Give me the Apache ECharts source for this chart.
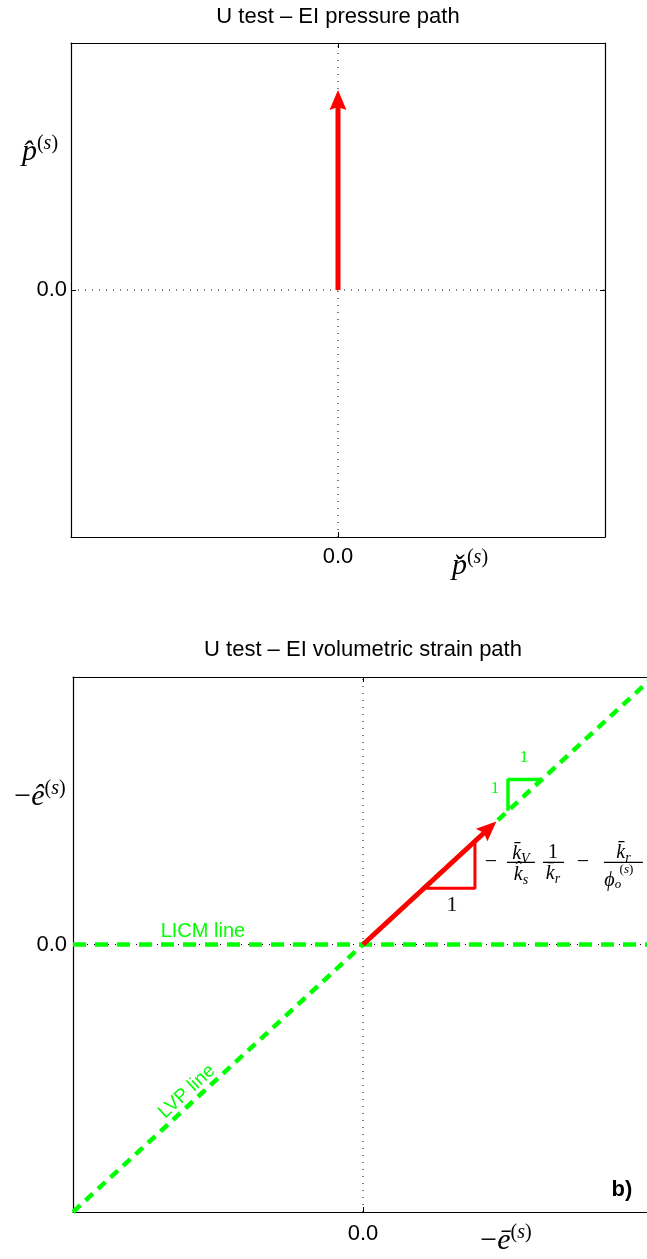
<!DOCTYPE html>
<html>
<head>
<meta charset="utf-8">
<script src="https://cdn.jsdelivr.net/npm/echarts@6.0.0/dist/echarts.min.js"></script>
<style>
html,body{margin:0;padding:0;background:#fff;}
#chart{width:647px;height:1259px;}
</style>
</head>
<body>
<div id="chart"></div>
<script>
// ---------------- data ----------------
const titles = ['U test \u2013 EI pressure path', 'U test \u2013 EI volumetric strain path'];
const tickLabels = ['0.0'];
const axisMin = -1, axisMax = 1, axisStep = 1;
const zeroLineV = [[0, -1], [0, 1]];
const zeroLineH = [[-1, 0], [1, 0]];
const pressureArrow = [0, 0, 0, 0.81];      // x0, y0, x1, y1
const strainArrow = [0, 0, 0.46, 0.46];
const licmLine = [[-1, 0], [1, 0]];
const lvpLine = [[-1, -1], [1, 1]];
const redTriangle = [[0.21, 0.21], [0.386, 0.21], [0.386, 0.386]];
const greenTriangle = [[0.5, 0.5], [0.5, 0.617], [0.617, 0.617]];
const lineLabels = ['LICM line', 'LVP line'];
const slopeLabels = ['1', '1', '1'];
const panelLabel = 'b)';

// ---------------- styling ----------------
const SANS = '"Liberation Sans", Arial, Helvetica, sans-serif';
const SERIF = '"Liberation Serif", "DejaVu Serif", serif';
const GREEN = '#00ff00';
const RED = '#ff0000';

// annotation anchors (data coordinates of the bottom panel)
const annotations = [
  {text: lineLabels[0], at: [-0.552, 0.049], font: '20px ' + SANS, fill: GREEN},
  {text: lineLabels[1], at: [-0.607, -0.55], font: '19px ' + SANS, fill: GREEN, rot: 42.7},
  {text: slopeLabels[0], at: [0.307, 0.146], font: '22px ' + SERIF, fill: '#111'},
  {text: slopeLabels[1], at: [0.455, 0.583], font: '17px ' + SERIF, fill: GREEN},
  {text: slopeLabels[2], at: [0.555, 0.699], font: '17px ' + SERIF, fill: GREEN},
  {text: panelLabel, at: [0.893, -0.916], font: 'bold 22px ' + SANS, fill: '#000'}
];
const formulaAnchor = [0.424, 0.307];

function mathRich(S) {
  return {
    it: {fontFamily: SERIF, fontStyle: 'italic', fontSize: S, lineHeight: Math.round(S * 1.3), fill: '#000'},
    up: {fontFamily: SERIF, fontSize: S, lineHeight: Math.round(S * 1.3), fill: '#000'},
    sub: {fontFamily: SERIF, fontStyle: 'italic', fontSize: Math.round(S * 0.7), lineHeight: Math.round(S * 0.7), verticalAlign: 'bottom', fill: '#000'},
    sup: {fontFamily: SERIF, fontSize: Math.round(S * 0.7), lineHeight: Math.round(S * 0.7), verticalAlign: 'top', fill: '#000'},
    supi: {fontFamily: SERIF, fontStyle: 'italic', fontSize: Math.round(S * 0.7), lineHeight: Math.round(S * 0.7), verticalAlign: 'top', fill: '#000'}
  };
}

function arrowRender(params, api) {
  const p0 = api.coord([api.value(0), api.value(1)]);
  const p1 = api.coord([api.value(2), api.value(3)]);
  const dx = p1[0] - p0[0], dy = p1[1] - p0[1];
  const L = Math.hypot(dx, dy);
  const ux = dx / L, uy = dy / L, nx = -uy, ny = ux;
  const headL = 20, headW = 8.5, notch = 3;
  const bx = p1[0] - ux * headL, by = p1[1] - uy * headL;
  const mx = p1[0] - ux * (headL - notch), my = p1[1] - uy * (headL - notch);
  return {
    type: 'group',
    children: [
      {type: 'line', shape: {x1: p0[0], y1: p0[1], x2: mx, y2: my}, style: {stroke: RED, lineWidth: 5}},
      {type: 'polygon', shape: {points: [[p1[0], p1[1]], [bx + nx * headW, by + ny * headW], [mx, my], [bx - nx * headW, by - ny * headW]]}, style: {fill: RED}}
    ]
  };
}

function labelRender(params, api) {
  const a = annotations[api.value(2)];
  const p = api.coord([api.value(0), api.value(1)]);
  return {
    type: 'text', x: p[0], y: p[1], rotation: (a.rot || 0) * Math.PI / 180,
    style: {text: a.text, font: a.font, fill: a.fill, align: 'center', verticalAlign: 'middle'}
  };
}

function formulaRender(params, api) {
  const p = api.coord([api.value(0), api.value(1)]);
  const x = p[0], y = p[1];
  const T = (text, cx, cy, S) => ({type: 'text', style: {text: text, x: x + cx, y: y + cy, align: 'center', verticalAlign: 'middle', rich: mathRich(S || 20), fill: '#000'}});
  const bar = (a, b) => ({type: 'line', shape: {x1: x + a, y1: y, x2: x + b, y2: y}, style: {stroke: '#000', lineWidth: 1.3}});
  return {
    type: 'group',
    children: [
      T('{up|\u2212}', 5, 0, 22),
      bar(21, 49), T('{it|k\u0304}{sub|V}', 35, -9), T('{it|k\u0302}{sub|s}', 35, 12),
      bar(57, 78), T('{up|1}', 67, -10), T('{it|k\u0304}{sub|r}', 67, 11),
      T('{up|\u2212}', 97, 0, 22),
      bar(118, 157), T('{it|k\u0304}{sub|r}', 137.5, -10),
      T('{it|\u03d5}', 123.5, 18), T('{it|o}', 132, 22, 13), T('{up|(}{it|s}{up|)}', 140.5, 7, 13)
    ]
  };
}

function xAxisPair(gi, showLabels, margin) {
  const base = {
    gridIndex: gi, type: 'value', min: axisMin, max: axisMax, interval: axisStep,
    axisLine: {show: true, onZero: false, lineStyle: {color: '#000', width: 1.2}},
    axisTick: {show: true, inside: true, length: 5, lineStyle: {color: '#000', width: 1}},
    splitLine: {show: false}
  };
  return [
    Object.assign({}, base, {position: 'bottom', axisLabel: {show: showLabels, margin: margin, fontSize: 22, color: '#000', fontFamily: SANS, formatter: v => (v === 0 ? tickLabels[0] : '')}}),
    Object.assign({}, base, {position: 'top', axisLabel: {show: false}})
  ];
}
function yAxisPair(gi, margin) {
  const base = {
    gridIndex: gi, type: 'value', min: axisMin, max: axisMax, interval: axisStep,
    axisLine: {show: true, onZero: false, lineStyle: {color: '#000', width: 1.2}},
    axisTick: {show: true, inside: true, length: 5, lineStyle: {color: '#000', width: 1}},
    splitLine: {show: false}
  };
  return [
    Object.assign({}, base, {position: 'left', axisLabel: {show: true, margin: margin, fontSize: 22, color: '#000', fontFamily: SANS, formatter: v => (v === 0 ? tickLabels[0] : '')}}),
    Object.assign({}, base, {position: 'right', axisLabel: {show: false}})
  ];
}

function plain(data, gi, lineStyle, z) {
  return {type: 'line', xAxisIndex: gi * 2, yAxisIndex: gi * 2, data: data, symbol: 'none', showSymbol: false, silent: true, animation: false, lineStyle: lineStyle, z: z};
}
const dotted = {color: '#000', width: 1, type: [1, 6]};

const axisNameRich = {
  m: {fontFamily: SERIF, fontStyle: 'italic', fontSize: 30, lineHeight: 36, fill: '#000'},
  mu: {fontFamily: SERIF, fontSize: 30, lineHeight: 36, fill: '#000'},
  sp: {fontFamily: SERIF, fontSize: 20, lineHeight: 22, verticalAlign: 'top', fill: '#000'},
  si: {fontFamily: SERIF, fontStyle: 'italic', fontSize: 20, lineHeight: 22, verticalAlign: 'top', fill: '#000'}
};
function nameText(text, x, y) {
  return {type: 'text', x: x, y: y, style: {text: text, rich: axisNameRich, align: 'center', verticalAlign: 'middle'}};
}

const chart = echarts.init(document.getElementById('chart'), null, {renderer: 'canvas'});
chart.setOption({
  animation: false,
  backgroundColor: '#fff',
  grid: [
    {left: 71, top: 43, width: 534, height: 494, outerBoundsMode: 'none', containLabel: false},
    {left: 73, top: 677, width: 580, height: 535, outerBoundsMode: 'none', containLabel: false}
  ],
  xAxis: xAxisPair(0, true, 9).concat(xAxisPair(1, true, 11)),
  yAxis: yAxisPair(0, 4).concat(yAxisPair(1, 6)),
  series: [
    plain(zeroLineV, 0, dotted, 1),
    plain(zeroLineH, 0, dotted, 1),
    {type: 'custom', xAxisIndex: 0, yAxisIndex: 0, renderItem: arrowRender, data: [pressureArrow], encode: {x: [0, 2], y: [1, 3]}, z: 5, silent: true},
    plain(zeroLineV, 1, dotted, 1),
    plain(zeroLineH, 1, dotted, 1),
    plain(licmLine, 1, {color: GREEN, width: 4.5, type: [13, 9]}, 2),
    plain(lvpLine, 1, {color: GREEN, width: 4.5, type: [10, 7]}, 2),
    plain(redTriangle, 1, {color: RED, width: 3}, 3),
    plain(greenTriangle, 1, {color: GREEN, width: 3.5}, 3),
    {type: 'custom', xAxisIndex: 2, yAxisIndex: 2, renderItem: arrowRender, data: [strainArrow], encode: {x: [0, 2], y: [1, 3]}, z: 5, silent: true},
    {type: 'custom', xAxisIndex: 2, yAxisIndex: 2, renderItem: labelRender, data: annotations.map((a, i) => [a.at[0], a.at[1], i]), encode: {x: 0, y: 1}, z: 6, silent: true, clip: false},
    {type: 'custom', xAxisIndex: 2, yAxisIndex: 2, renderItem: formulaRender, data: [formulaAnchor], encode: {x: 0, y: 1}, z: 6, silent: true, clip: false}
  ],
  graphic: [
    {type: 'text', x: 338, y: 17, style: {text: titles[0], font: '22px ' + SANS, fill: '#000', align: 'center', verticalAlign: 'middle'}},
    {type: 'text', x: 363, y: 650, style: {text: titles[1], font: '22px ' + SANS, fill: '#000', align: 'center', verticalAlign: 'middle'}},
    nameText('{m|p\u0302}{sp|(}{si|s}{sp|)}', 40, 152),
    nameText('{m|p\u030c}{sp|(}{si|s}{sp|)}', 470, 566),
    nameText('{mu|\u2212}{m|\u00ea}{sp|(}{si|s}{sp|)}', 40, 797),
    nameText('{mu|\u2212}{m|\u0113}{sp|(}{si|s}{sp|)}', 506, 1241)
  ]
});
</script>
</body>
</html>
